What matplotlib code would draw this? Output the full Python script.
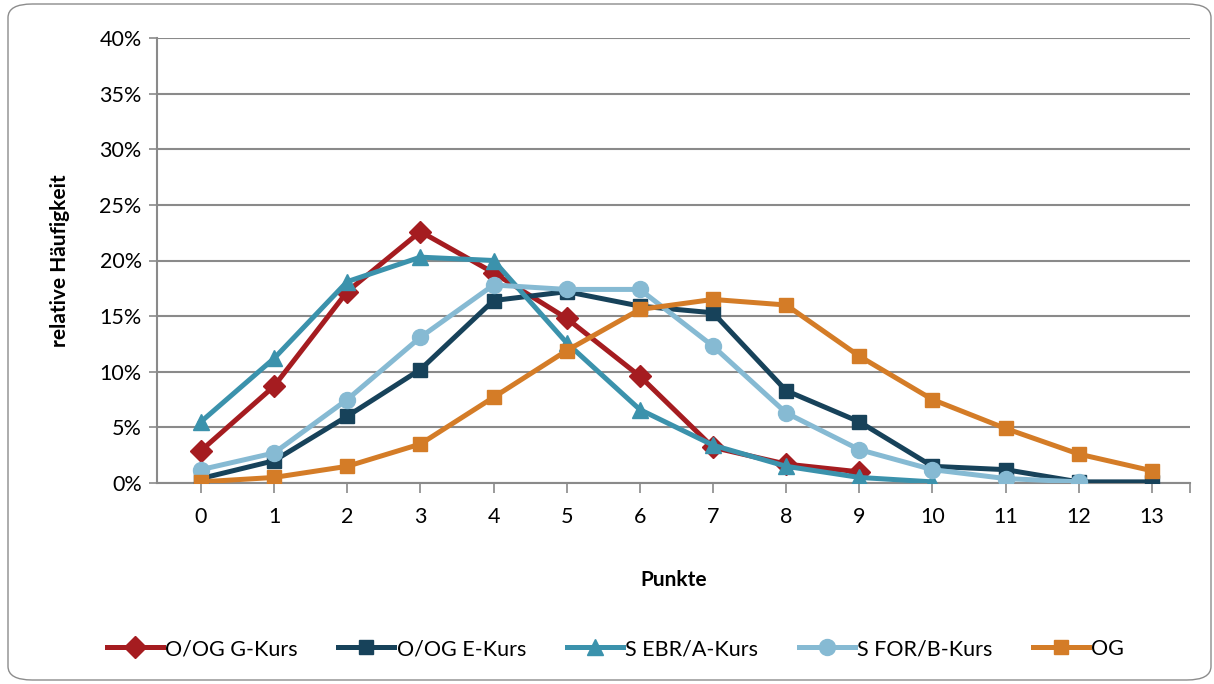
import matplotlib
matplotlib.use("Agg")
import matplotlib.pyplot as plt
from matplotlib.patches import FancyBboxPatch
from matplotlib.ticker import FuncFormatter, MultipleLocator

punkte = list(range(14))
g_kurs = [2.9, 8.7, 17.2, 22.6, 18.9, 14.8, 9.6, 3.2, 1.7, 1.0]
e_kurs = [0.4, 2.0, 6.0, 10.2, 16.4, 17.2, 15.9, 15.3, 8.3, 5.5, 1.5, 1.2, 0.1, 0.1]
ebr_a = [5.5, 11.2, 18.1, 20.3, 20.0, 12.6, 6.6, 3.4, 1.5, 0.5, 0.1]
for_b = [1.2, 2.7, 7.5, 13.1, 17.8, 17.4, 17.4, 12.3, 6.3, 3.0, 1.2, 0.4, 0.1]
og = [0.1, 0.5, 1.5, 3.5, 7.7, 11.9, 15.6, 16.5, 16.0, 11.4, 7.5, 4.9, 2.6, 1.1]

series = [
    ("O/OG G-Kurs", g_kurs, "#A51C20", "D", 11.5),
    ("O/OG E-Kurs", e_kurs, "#17425A", "s", 10.5),
    ("S EBR/A-Kurs", ebr_a, "#3B92AC", "^", 12),
    ("S FOR/B-Kurs", for_b, "#86BAD3", "o", 11.5),
    ("OG", og, "#D47C27", "s", 10.5),
]

plt.rcParams['font.family'] = ['Lato', 'DejaVu Sans']

fig = plt.figure(figsize=(12.14, 6.84), dpi=100)
W, H = 1214, 684
ax = fig.add_axes([157 / W, 1 - 483 / H, (1190 - 157) / W, (483 - 38) / H])

border = FancyBboxPatch((8 / W, 4 / H), 1203 / W, 676 / H,
                        boxstyle="round,pad=0,rounding_size=0.02",
                        transform=fig.transFigure, fill=False,
                        edgecolor="#8c8c8c", linewidth=1.0)
fig.patches.append(border)

for name, vals, col, mk, ms in series:
    ax.plot(punkte[:len(vals)], vals, color=col, marker=mk, markersize=ms,
            linewidth=3.6, label=name, zorder=3)

ax.set_xlim(-0.6, 13.52)
ax.set_ylim(0, 40)
ax.yaxis.set_major_locator(MultipleLocator(5))
ax.yaxis.set_major_formatter(FuncFormatter(lambda v, p: f"{int(v)}%"))
ax.set_xticks(punkte + [13.52])
ax.set_xticklabels([str(p) for p in punkte] + [""])
ax.grid(axis="y", color="#8a8a8a", linewidth=1.5)
ax.set_axisbelow(True)
for s in ["top", "right"]:
    ax.spines[s].set_visible(False)
for s in ["left", "bottom"]:
    ax.spines[s].set_color("#8a8a8a")
    ax.spines[s].set_linewidth(1.5)
ax.tick_params(axis="x", direction="out", length=7, width=1.2, color="#8a8a8a",
               labelsize=15.5, pad=10)
ax.tick_params(axis="y", direction="out", length=6, width=1.2, color="#8a8a8a",
               labelsize=15.5, pad=5)

ax.set_xlabel("Punkte", fontsize=15, fontweight="bold", labelpad=31)
ax.set_ylabel("relative Häufigkeit", fontsize=15, fontweight="bold", labelpad=21)

fig.legend(loc="center", bbox_to_anchor=(0.507, 1 - 649 / H), ncol=5, frameon=False,
           fontsize=15.5, handlelength=2.6, columnspacing=1.9, handletextpad=0.1)

fig.savefig("out.png", dpi=100)
